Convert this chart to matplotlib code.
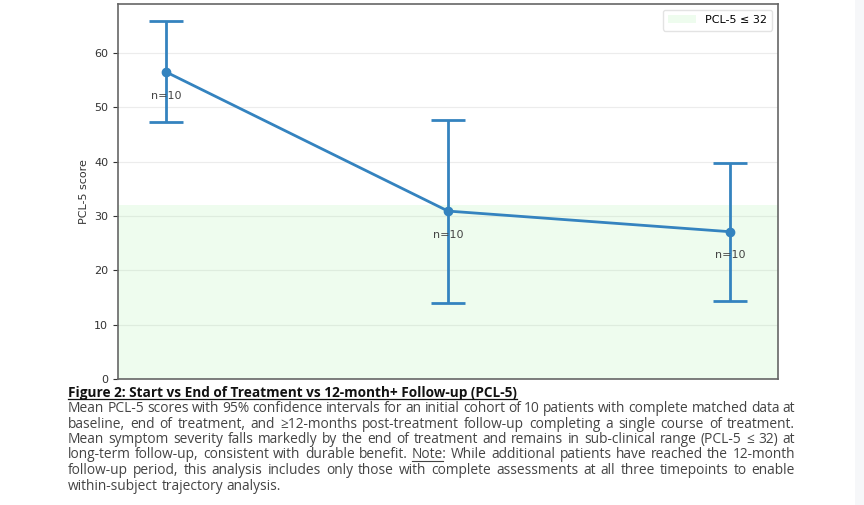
import matplotlib.pyplot as plt
import numpy as np
from matplotlib.patches import Rectangle

timepoints = ['Baseline', 'End of treatment', '12-month+ follow-up']
means = [56.5, 30.9, 27.1]
ci_low = [47.2, 14.0, 14.4]
ci_high = [65.8, 47.7, 39.8]
n_obs = [10, 10, 10]
threshold = 32

caption_title = "Figure 2: Start vs End of Treatment vs 12-month+ Follow-up (PCL-5)"
caption_lines = [
    "Mean PCL-5 scores with 95% confidence intervals for an initial cohort of 10 patients with complete matched data at",
    "baseline, end of treatment, and \u226512-months post-treatment follow-up completing a single course of treatment.",
    "Mean symptom severity falls markedly by the end of treatment and remains in sub-clinical range (PCL-5 \u2264 32) at",
    "long-term follow-up, consistent with durable benefit. Note: While additional patients have reached the 12-month",
    "follow-up period, this analysis includes only those with complete assessments at all three timepoints to enable",
    "within-subject trajectory analysis.",
]

W, H = 864, 505
dpi = 100
fig = plt.figure(figsize=(W / dpi, H / dpi), dpi=dpi)
fig.patch.set_facecolor('white')
ax = fig.add_axes([118 / W, 1 - 379 / H, 660 / W, 375 / H])

x = np.arange(len(means))
m = np.array(means)
yerr = [m - np.array(ci_low), np.array(ci_high) - m]
blue = '#3483bf'

ax.axhspan(0, threshold, color='#90ee90', alpha=0.15, lw=0, label='PCL-5 \u2264 32')
ax.errorbar(x, m, yerr=yerr, fmt='o-', color=blue, lw=2, ms=6, capsize=12,
            capthick=2, elinewidth=2, zorder=3)
for xi, yi, n in zip(x, m, n_obs):
    ax.annotate(f'n={n}', (xi, yi), xytext=(0, -17), textcoords='offset points',
                ha='center', va='center', fontsize=8, color='#444444', zorder=4)

ax.set_xlim(-0.17, 2.17)
ax.set_ylim(0, 69)
ax.set_yticks([0, 10, 20, 30, 40, 50, 60])
ax.set_xticks(x)
ax.set_xticklabels([])
ax.tick_params(axis='y', labelsize=8, colors='#333333')
ax.tick_params(axis='x', length=0)
ax.grid(axis='y', color='#ececec', lw=0.8)
ax.set_axisbelow(True)
ax.set_ylabel('PCL-5 score', fontsize=8, color='#333333', labelpad=4)
for s in ax.spines.values():
    s.set_color('#666666')
    s.set_linewidth(1.2)
ax.legend(loc='upper right', fontsize=8, frameon=True, edgecolor='#dddddd',
          handlelength=2.5, borderpad=0.5)

# grey page strip on the right
fig.add_artist(Rectangle((855 / W, 0), 9 / W, 1, transform=fig.transFigure,
                         color='#f6f7f9', lw=0))

# caption
fam = 'Open Sans'
body_fs = 9.9
renderer = fig.canvas.get_renderer()
left_px, right_px = 68, 795


def width_of(s, **kw):
    t = fig.text(0, 0, s, **kw)
    wd = t.get_window_extent(renderer).width
    t.remove()
    return wd


tt = fig.text(left_px / W, 1 - 397 / H, caption_title, fontsize=9.8, fontweight='bold',
              family=fam, color='#111111', va='baseline', ha='left')
bb = tt.get_window_extent(renderer)
fig.add_artist(plt.Line2D([bb.x0 / W, bb.x1 / W], [1 - 399 / H] * 2,
                          transform=fig.transFigure, color='#111111', lw=0.9))

line_y = [412, 427.5, 443, 458.5, 474, 489.5]
space_w = width_of('a a', fontsize=body_fs, family=fam) - width_of('aa', fontsize=body_fs, family=fam)
for i, (line, yp) in enumerate(zip(caption_lines, line_y)):
    words = line.split(' ')
    arts = [fig.text(0, 1 - yp / H, w, fontsize=body_fs, family=fam, color='#444444',
                     va='baseline', ha='left') for w in words]
    widths = [a.get_window_extent(renderer).width for a in arts]
    if i < len(caption_lines) - 1:
        gap = (right_px - left_px - sum(widths)) / (len(words) - 1)
    else:
        gap = space_w
    xp = left_px
    for a, w, wd in zip(arts, words, widths):
        a.set_x(xp / W)
        if w == 'Note:':
            nw = width_of('Note', fontsize=body_fs, family=fam)
            fig.add_artist(plt.Line2D([xp / W, (xp + nw) / W], [1 - (yp + 2) / H] * 2,
                                      transform=fig.transFigure, color='#444444', lw=0.8))
        xp += wd + gap

fig.savefig('out.png', dpi=dpi)
